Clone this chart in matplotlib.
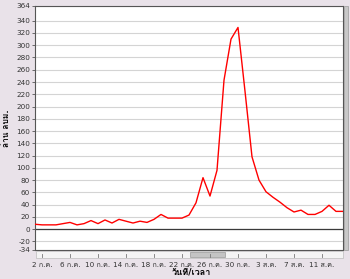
import matplotlib
matplotlib.use('Agg')
import matplotlib.pyplot as plt
from matplotlib.patches import Rectangle

plt.rcParams['font.family'] = ['DejaVu Sans', 'Loma']

# วันที่ 1 ก.ค. = 1 ... 14 ส.ค. = 45
days = list(range(1, 46))
volume = [8, 7, 7, 7, 9, 11, 7, 9, 14, 9,
          15, 10, 16, 13, 10, 13, 11, 16, 24, 18,
          18, 18, 23, 43, 84, 54, 96, 243, 310, 329,
          225, 118, 80, 61, 52, 44, 35, 28, 31, 24,
          24, 29, 39, 29, 29]

xtick_pos = [2, 6, 10, 14, 18, 22, 26, 30, 34, 38, 42]
xtick_labels = ['2 ก.ค.', '6 ก.ค.', '10 ก.ค.', '14 ก.ค.', '18 ก.ค.', '22 ก.ค.',
                '26 ก.ค.', '30 ก.ค.', '3 ส.ค.', '7 ส.ค.', '11 ส.ค.']
ytick_pos = [-34, -20, 0, 20, 40, 60, 80, 100, 120, 140, 160, 180, 200,
             220, 240, 260, 280, 300, 320, 340, 364]

W, H = 350, 279
bg = '#e9e2e9'
fig = plt.figure(figsize=(W / 100, H / 100), dpi=100, facecolor=bg)
ax = fig.add_axes([35 / W, 1 - 250 / H, 308 / W, 244 / H])
ax.set_facecolor('white')

ax.plot(days, volume, color='#ff0000', lw=1.0, zorder=3)
ax.axhline(0, color='#3a3a3a', lw=0.9, zorder=2)

ax.set_xlim(1, 45)
ax.set_ylim(-34, 364)
ax.set_yticks(ytick_pos)
ax.set_yticklabels([str(v) for v in ytick_pos])
ax.set_xticks(xtick_pos)
ax.set_xticklabels(xtick_labels)
ax.grid(axis='y', color='#d4d4d4', lw=0.8)
ax.set_axisbelow(True)

ax.tick_params(axis='y', length=2.5, width=0.6, pad=1, labelsize=5.2,
               color='#555555', labelcolor='#333333')
ax.tick_params(axis='x', length=0, pad=8.5, labelsize=5.2, labelcolor='#333333')
for s in ax.spines.values():
    s.set_color('#555555')
    s.set_linewidth(0.8)

# แถบเลื่อนด้านล่างและด้านขวา
fig.patches.append(Rectangle((36 / W, 1 - 258 / H), 307 / W, 7 / H,
                             transform=fig.transFigure, facecolor='#f4f4f4',
                             edgecolor='#bdbdbd', lw=0.5))
fig.patches.append(Rectangle((190 / W, 1 - 257 / H), 35 / W, 5 / H,
                             transform=fig.transFigure, facecolor='#c4c4c4',
                             edgecolor='#999999', lw=0.5))
fig.patches.append(Rectangle((344 / W, 1 - 250 / H), 4 / W, 244 / H,
                             transform=fig.transFigure, facecolor='#c8c8c8',
                             edgecolor='#9a9a9a', lw=0.5))
for xp in xtick_pos:
    xf = fig.transFigure.inverted().transform(ax.transData.transform((xp, 0)))[0]
    fig.lines.append(plt.Line2D([xf, xf], [1 - 257 / H, 1 - 254 / H],
                                transform=fig.transFigure, color='#777777', lw=0.6))

ax.set_ylabel('ล้าน ลบม.', fontsize=6, fontweight='bold', labelpad=4)
fig.text(191 / W, 1 - 273 / H, 'วันที่/เวลา', ha='center', va='center',
         fontsize=6.5, fontweight='bold')

fig.savefig('out.png', dpi=100, facecolor=bg)
